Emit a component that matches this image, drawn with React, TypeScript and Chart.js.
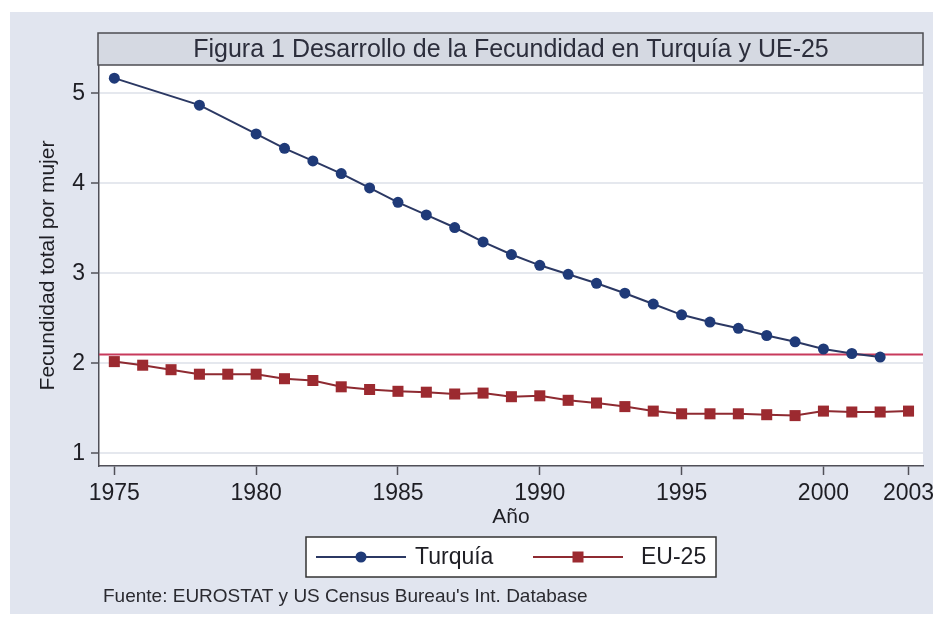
import React, { useEffect, useRef } from "react";
import { Chart, registerables } from "chart.js";

Chart.register(...registerables);

const turkeyYears = [1975, 1978, 1980, 1981, 1982, 1983, 1984, 1985, 1986, 1987, 1988, 1989, 1990, 1991, 1992, 1993, 1994, 1995, 1996, 1997, 1998, 1999, 2000, 2001, 2002];
const turkeyValues = [5.17, 4.87, 4.55, 4.39, 4.25, 4.11, 3.95, 3.79, 3.65, 3.51, 3.35, 3.21, 3.09, 2.99, 2.89, 2.78, 2.66, 2.54, 2.46, 2.39, 2.31, 2.24, 2.16, 2.11, 2.07];

const euYears = [1975, 1976, 1977, 1978, 1979, 1980, 1981, 1982, 1983, 1984, 1985, 1986, 1987, 1988, 1989, 1990, 1991, 1992, 1993, 1994, 1995, 1996, 1997, 1998, 1999, 2000, 2001, 2002, 2003];
const euValues = [2.02, 1.98, 1.93, 1.88, 1.88, 1.88, 1.83, 1.81, 1.74, 1.71, 1.69, 1.68, 1.66, 1.67, 1.63, 1.64, 1.59, 1.56, 1.52, 1.47, 1.44, 1.44, 1.44, 1.43, 1.42, 1.47, 1.46, 1.46, 1.47];

const replacementLevel = 2.1;

const xTickValues = [1975, 1980, 1985, 1990, 1995, 2000, 2003];
const yTickValues = [1, 2, 3, 4, 5];

const titleText = "Figura 1 Desarrollo de la Fecundidad en Turquía y UE-25";
const yTitle = "Fecundidad total por mujer";
const xTitle = "Año";
const seriesNames = ["Turquía", "EU-25"];
const footnote = "Fuente: EUROSTAT y US Census Bureau's Int. Database";

const X_MIN = 1974.46;
const X_MAX = 2003.51;
const Y_MIN = 0.86;
const Y_MAX = 5.316;

const FONT = "'Liberation Sans', Arial, Helvetica, sans-serif";
const BLUE = "#1f3a78";
const BLUE_LINE = "#2b3863";
const RED = "#9c2a30";
const RED_LINE = "#8e2a31";
const HLINE = "#c83a5c";
const BG = "#e1e5ef";
const TEXT = "#1e1e24";

export default function App() {
  const ref = useRef<HTMLCanvasElement | null>(null);

  useEffect(() => {
    const canvas = ref.current;
    if (!canvas) return;

    const decor = {
      id: "decor",
      beforeDraw(chart: any) {
        const ctx = chart.ctx;
        const ca = chart.chartArea;
        ctx.save();
        ctx.fillStyle = "#ffffff";
        ctx.fillRect(0, 0, chart.width, chart.height);
        ctx.fillStyle = BG;
        ctx.fillRect(10, 12, chart.width - 10, 602);
        ctx.fillStyle = "#ffffff";
        ctx.fillRect(ca.left, ca.top, ca.right - ca.left, ca.bottom - ca.top);
        ctx.restore();
      },
      afterDraw(chart: any) {
        const ctx = chart.ctx;
        const ca = chart.chartArea;
        ctx.save();
        // title box
        ctx.fillStyle = "#d5d9e2";
        ctx.fillRect(ca.left - 1, 33, ca.right - ca.left + 1, ca.top - 33);
        ctx.strokeStyle = "#4c4c52";
        ctx.lineWidth = 1.5;
        ctx.strokeRect(ca.left - 1, 33, ca.right - ca.left + 1, ca.top - 33);
        ctx.fillStyle = "#2c2e3c";
        ctx.font = `25px ${FONT}`;
        ctx.textAlign = "center";
        ctx.textBaseline = "middle";
        ctx.fillText(titleText, (ca.left + ca.right) / 2, 50);

        // legend box
        ctx.fillStyle = "#ffffff";
        ctx.fillRect(306, 537, 410, 40);
        ctx.strokeStyle = "#333333";
        ctx.lineWidth = 1.5;
        ctx.strokeRect(306, 537, 410, 40);
        const ly = 557;
        ctx.lineWidth = 2;
        ctx.strokeStyle = BLUE_LINE;
        ctx.beginPath();
        ctx.moveTo(316, ly);
        ctx.lineTo(406, ly);
        ctx.stroke();
        ctx.fillStyle = BLUE;
        ctx.beginPath();
        ctx.arc(361, ly, 5.5, 0, Math.PI * 2);
        ctx.fill();
        ctx.strokeStyle = RED_LINE;
        ctx.beginPath();
        ctx.moveTo(533, ly);
        ctx.lineTo(623, ly);
        ctx.stroke();
        ctx.fillStyle = RED;
        ctx.fillRect(578 - 5.5, ly - 5.5, 11, 11);
        ctx.fillStyle = TEXT;
        ctx.font = `23px ${FONT}`;
        ctx.textAlign = "left";
        ctx.textBaseline = "middle";
        ctx.fillText(seriesNames[0], 415, ly + 1);
        ctx.fillText(seriesNames[1], 641, ly + 1);

        // footnote
        ctx.font = `19px ${FONT}`;
        ctx.fillStyle = "#2a2a30";
        ctx.fillText(footnote, 103, 597);
        ctx.restore();
      },
    };

    const chart = new Chart(canvas, {
      type: "line",
      data: {
        datasets: [
          {
            label: seriesNames[0],
            data: turkeyYears.map((x, i) => ({ x, y: turkeyValues[i] })),
            borderColor: BLUE_LINE,
            backgroundColor: BLUE,
            borderWidth: 2,
            pointRadius: 5.5,
            pointBorderWidth: 0,
            pointBackgroundColor: BLUE,
            pointStyle: "circle",
            order: 1,
          },
          {
            label: seriesNames[1],
            data: euYears.map((x, i) => ({ x, y: euValues[i] })),
            borderColor: RED_LINE,
            backgroundColor: RED,
            borderWidth: 2,
            pointRadius: 7.8,
            pointBorderWidth: 0,
            pointBackgroundColor: RED,
            pointStyle: "rect",
            order: 2,
          },
          {
            label: "ref",
            data: [
              { x: X_MIN, y: replacementLevel },
              { x: X_MAX, y: replacementLevel },
            ],
            borderColor: HLINE,
            borderWidth: 2,
            pointRadius: 0,
            order: 3,
          },
        ],
      },
      options: {
        animation: false,
        responsive: false,
        devicePixelRatio: 1,
        events: [],
        layout: { padding: { left: 0, top: 65, right: 10, bottom: 94 } },
        plugins: {
          legend: { display: false },
          title: { display: false },
          tooltip: { enabled: false },
        },
        scales: {
          x: {
            type: "linear",
            min: X_MIN,
            max: X_MAX,
            afterBuildTicks: (scale: any) => {
              scale.ticks = xTickValues.map((v) => ({ value: v }));
            },
            afterFit: (scale: any) => {
              scale.height = 62;
              scale.paddingLeft = 0;
              scale.paddingRight = 0;
            },
            ticks: {
              autoSkip: false,
              maxRotation: 0,
              padding: 5,
              color: TEXT,
              font: { family: FONT, size: 23, lineHeight: 1.2 },
              callback: (v: any) => String(v),
            },
            grid: {
              display: true,
              drawOnChartArea: false,
              drawTicks: true,
              tickLength: 9,
              tickColor: "#505058",
              tickWidth: 1.5,
            },
            border: { display: true, color: "#505058", width: 1.5 },
            title: {
              display: true,
              text: xTitle,
              color: TEXT,
              font: { family: FONT, size: 21, lineHeight: 1 },
              padding: { top: 0, bottom: 0 },
            },
          },
          y: {
            type: "linear",
            min: Y_MIN,
            max: Y_MAX,
            afterBuildTicks: (scale: any) => {
              scale.ticks = yTickValues.map((v) => ({ value: v }));
            },
            afterFit: (scale: any) => {
              scale.width = 99;
              scale.paddingTop = 0;
              scale.paddingBottom = 0;
            },
            ticks: {
              padding: 6,
              color: TEXT,
              font: { family: FONT, size: 23, lineHeight: 1.2 },
              callback: (v: any) => String(v),
            },
            grid: {
              display: true,
              drawOnChartArea: true,
              drawTicks: true,
              tickLength: 8,
              color: "#e5e8ee",
              lineWidth: 2,
              tickColor: "#505058",
              tickWidth: 1.5,
            },
            border: { display: true, color: "#505058", width: 1.5 },
            title: {
              display: true,
              text: yTitle,
              color: TEXT,
              font: { family: FONT, size: 21, lineHeight: 1 },
              padding: { top: 37.5, bottom: 0 },
            },
          },
        },
      },
      plugins: [decor],
    } as any);

    return () => chart.destroy();
  }, []);

  return (
    <div style={{ position: "absolute", left: 0, top: 0, width: 933, height: 622 }}>
      <canvas ref={ref} width={933} height={622} style={{ display: "block", width: 933, height: 622 }} />
    </div>
  );
}
